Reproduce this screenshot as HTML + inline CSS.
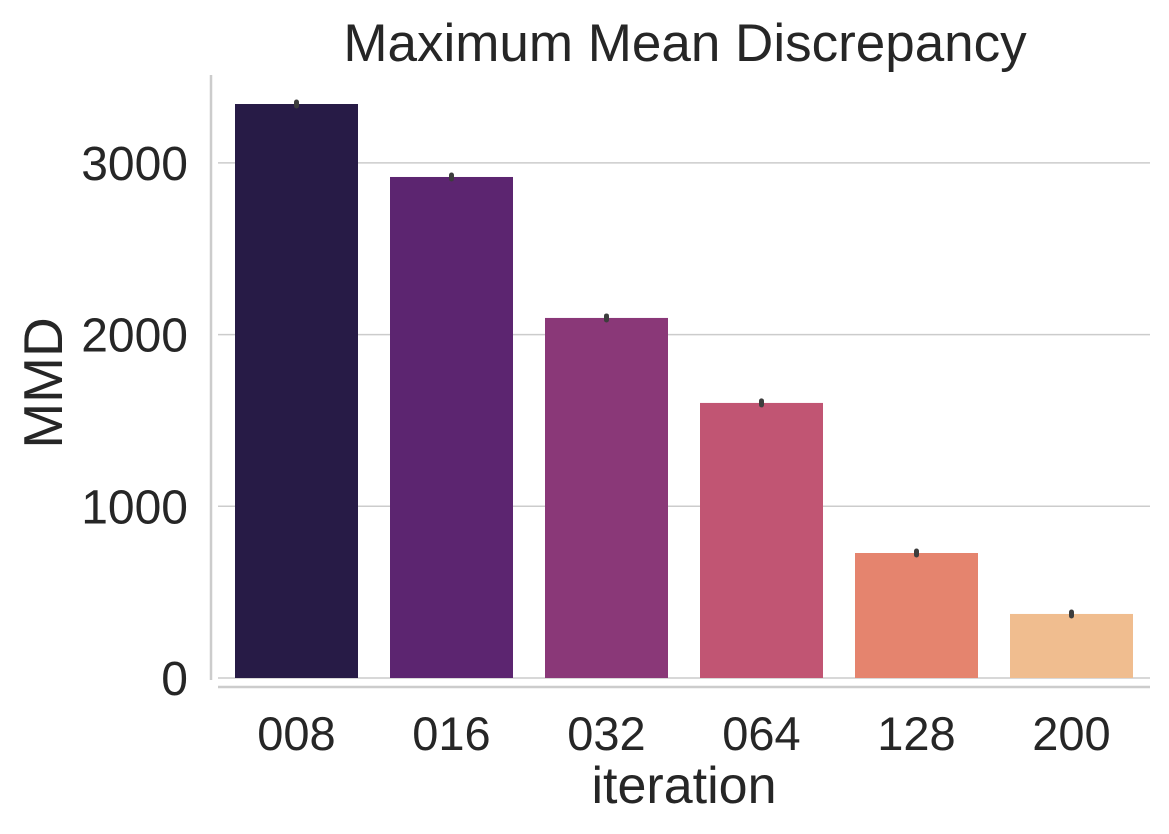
<!DOCTYPE html>
<html><head><meta charset="utf-8"><style>
body{margin:0;background:#fff;}
svg{display:block;font-family:"Liberation Sans",Arial,sans-serif;}
</style></head><body>
<svg id="chart" width="1169" height="834">
<text x="685" y="61" font-size="53" text-anchor="middle" fill="#262626">Maximum Mean Discrepancy</text>
<g id="grid"></g><g id="bars"></g><g id="ticks"></g>
<line x1="211" y1="75" x2="211" y2="680" stroke="#cccccc" stroke-width="2.5"/>
<line x1="218" y1="687" x2="1150" y2="687" stroke="#cccccc" stroke-width="2.5"/>
<text x="62" y="383" font-size="55" text-anchor="middle" fill="#262626" transform="rotate(-90 62 383)">MMD</text>
<text x="684" y="803" font-size="52" text-anchor="middle" fill="#262626">iteration</text>
</svg>
<script>
const categories=["008","016","032","064","128","200"];
const values=[3343,2918,2097,1602,728,373];
const colors=["#271b46","#5c2570","#8a3878","#c15573","#e5846e","#f0bd8f"];
const yTicks=[0,1000,2000,3000];
const NS="http://www.w3.org/2000/svg";
const y0=678,pxPer=0.1717;
function yS(v){return y0-v*pxPer;}
function xS(i){return 296.5+i*155;}
const bw=123;
const grid=document.getElementById('grid'),bars=document.getElementById('bars'),ticks=document.getElementById('ticks');
function mk(tag,attrs,parent){const e=document.createElementNS(NS,tag);for(const k in attrs)e.setAttribute(k,attrs[k]);parent.appendChild(e);return e;}
yTicks.forEach(t=>{
  const l=mk('line',{x1:218,x2:1150,y1:yS(t),y2:yS(t),stroke:'#cccccc','stroke-width':1.5},grid);
  
  
  const tx=mk('text',{x:188,y:yS(t)+17,'font-size':48,'text-anchor':'end',fill:'#262626'},ticks);
  tx.textContent=t;
  
  
});
categories.forEach((c,i)=>{
  const r=mk('rect',{x:xS(i)-bw/2,y:yS(values[i]),width:bw,height:y0-yS(values[i]),fill:colors[i]},bars);
  
  
  const e=mk('line',{x1:xS(i),x2:xS(i),y1:yS(values[i])-2,y2:yS(values[i])+2,stroke:'#3d3d3d','stroke-width':5,'stroke-linecap':'round'},bars);
  
  
  const tx=mk('text',{x:xS(i),y:750,'font-size':47,'text-anchor':'middle',fill:'#262626'},ticks);
  tx.textContent=c;
  
  
});
</script>
</body></html>
